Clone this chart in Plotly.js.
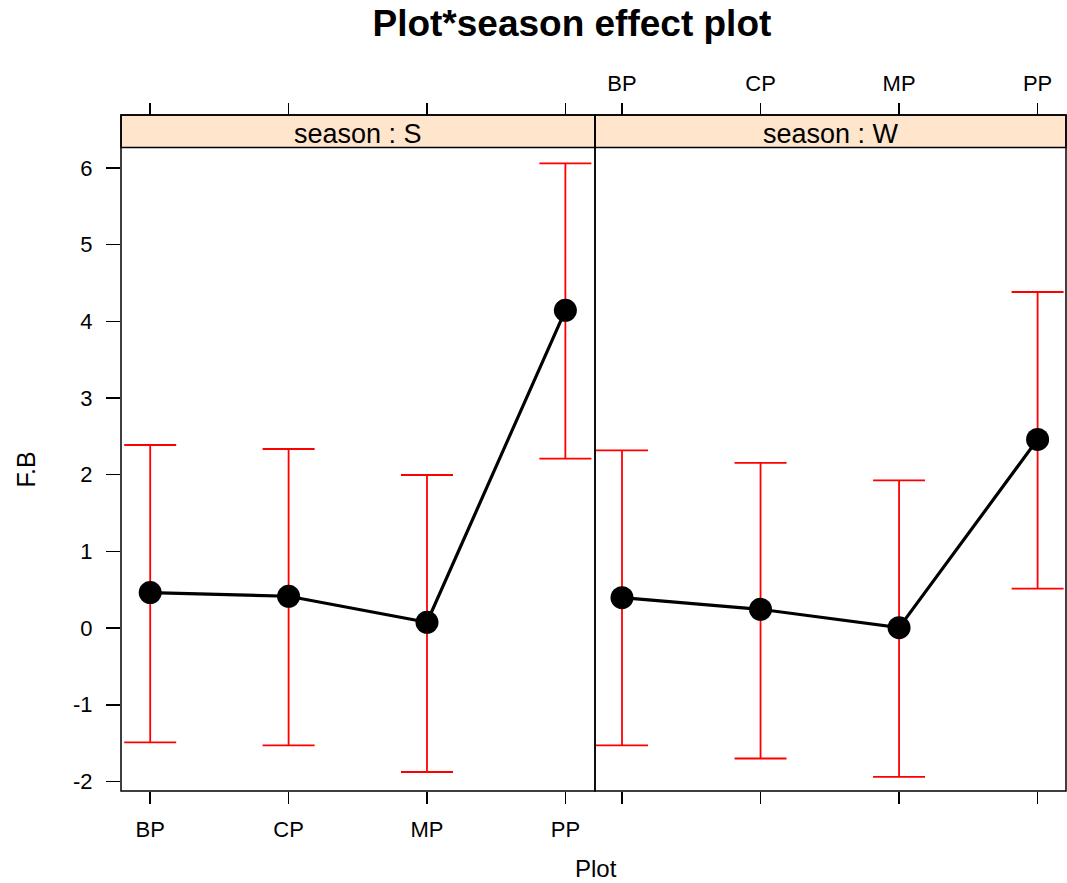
<!DOCTYPE html>
<html>
<head>
<meta charset="utf-8">
<script src="https://cdn.plot.ly/plotly-3.0.1.min.js"></script>
<style>
html, body { margin: 0; padding: 0; background: #ffffff; }
#chart { width: 1067px; height: 883px; }
</style>
</head>
<body>
<div id="chart"></div>
<script>
// ---- data ----
const plots = ['BP', 'CP', 'MP', 'PP'];
const seasons = ['S', 'W'];
const fitS   = [0.463, 0.415, 0.076, 4.143];
const lowerS = [-1.489, -1.528, -1.876, 2.210];
const upperS = [2.387, 2.335, 1.996, 6.060];
const fitW   = [0.397, 0.245, 0.006, 2.460];
const lowerW = [-1.528, -1.700, -1.940, 0.515];
const upperW = [2.318, 2.153, 1.927, 4.382];
const yTicks = [-2, -1, 0, 1, 2, 3, 4, 5, 6];

// ---- styling ----
const FONT = '"Liberation Sans", Arial, Helvetica, sans-serif';
const splitX = (595 - 121) / 945;   // boundary between the two panels (paper)
const panelTop = 0.9518;            // top of the panels (strip starts here)

function trace(fit, lower, upper, xa) {
  return {
    type: 'scatter', mode: 'lines+markers',
    x: plots, y: fit, xaxis: xa, yaxis: 'y',
    line: { color: '#000000', width: 3.2 },
    marker: { color: '#000000', size: 23 },
    error_y: {
      type: 'data', symmetric: false,
      array: upper.map((u, i) => u - fit[i]),
      arrayminus: lower.map((l, i) => fit[i] - l),
      color: '#ff0000', thickness: 1.8, width: 26
    },
    showlegend: false, hoverinfo: 'x+y'
  };
}

// invisible helper traces so that the top (overlaying) axes get drawn
function helper(xa) {
  return {
    type: 'scatter', mode: 'markers', x: plots, y: plots.map(() => null),
    xaxis: xa, yaxis: 'y', showlegend: false, hoverinfo: 'skip',
    marker: { opacity: 0 }
  };
}

const data = [
  trace(fitS, lowerS, upperS, 'x'),
  trace(fitW, lowerW, upperW, 'x2'),
  helper('x3'),
  helper('x4')
];

const xCommon = {
  type: 'category', categoryorder: 'array', categoryarray: plots,
  showgrid: false, zeroline: false, showline: false,
  ticks: 'outside', ticklen: 12, tickwidth: 1.5, tickcolor: '#000000',
  tickfont: { family: FONT, size: 22, color: '#000000' }
};
const rangeL = [-0.211, 3.214];
const rangeR = [-0.195, 3.205];

const layout = {
  width: 1067, height: 883,
  margin: { l: 121, r: 1, t: 115, b: 92, pad: 0 },
  paper_bgcolor: '#ffffff', plot_bgcolor: '#ffffff',
  font: { family: FONT, color: '#000000' },
  showlegend: false,
  title: {
    text: '<b>Plot*season effect plot</b>',
    font: { family: FONT, size: 37, color: '#000000' },
    xref: 'container', x: 0.536, xanchor: 'center',
    yref: 'container', y: 0.974, yanchor: 'middle'
  },
  xaxis: Object.assign({}, xCommon, {
    domain: [0, splitX], range: rangeL, anchor: 'y', side: 'bottom',
    ticklabelstandoff: 7
  }),
  xaxis2: Object.assign({}, xCommon, {
    domain: [splitX, 1], range: rangeR, anchor: 'y', side: 'bottom',
    showticklabels: false
  }),
  xaxis3: Object.assign({}, xCommon, {
    overlaying: 'x', range: rangeL, anchor: 'free', position: 1, side: 'top',
    showticklabels: false
  }),
  xaxis4: Object.assign({}, xCommon, {
    overlaying: 'x2', range: rangeR, anchor: 'free', position: 1, side: 'top',
    ticklabelstandoff: 3
  }),
  yaxis: {
    domain: [0, panelTop], range: [-2.124, 6.265], anchor: 'x',
    tickvals: yTicks, ticktext: yTicks.map(String),
    showgrid: false, zeroline: false, showline: false,
    ticks: 'outside', ticklen: 14, tickwidth: 1.5, tickcolor: '#000000',
    ticklabelstandoff: 9,
    tickfont: { family: FONT, size: 22, color: '#000000' }
  },
  shapes: [
    // strips
    { type: 'rect', xref: 'paper', yref: 'paper', x0: 0, x1: splitX, y0: panelTop, y1: 1,
      fillcolor: '#ffe5cc', line: { color: '#000000', width: 1.5 }, layer: 'below' },
    { type: 'rect', xref: 'paper', yref: 'paper', x0: splitX, x1: 1, y0: panelTop, y1: 1,
      fillcolor: '#ffe5cc', line: { color: '#000000', width: 1.5 }, layer: 'below' },
    // panel borders
    { type: 'rect', xref: 'paper', yref: 'paper', x0: 0, x1: splitX, y0: 0, y1: 1,
      line: { color: '#000000', width: 1.5 } },
    { type: 'rect', xref: 'paper', yref: 'paper', x0: splitX, x1: 1, y0: 0, y1: 1,
      line: { color: '#000000', width: 1.5 } }
  ],
  annotations: [
    { text: 'season : ' + seasons[0], xref: 'paper', yref: 'paper',
      x: splitX / 2, y: (panelTop + 1) / 2, yshift: -3, xanchor: 'center', yanchor: 'middle',
      showarrow: false, font: { family: FONT, size: 27, color: '#000000' } },
    { text: 'season : ' + seasons[1], xref: 'paper', yref: 'paper',
      x: (splitX + 1) / 2, y: (panelTop + 1) / 2, yshift: -3, xanchor: 'center', yanchor: 'middle',
      showarrow: false, font: { family: FONT, size: 27, color: '#000000' } },
    { text: 'Plot', xref: 'paper', yref: 'paper', x: 0.503, y: -0.115,
      xanchor: 'center', yanchor: 'middle', showarrow: false,
      font: { family: FONT, size: 24, color: '#000000' } },
    { text: 'F.B', xref: 'paper', yref: 'paper', x: -0.101, y: 0.475, textangle: -90,
      xanchor: 'center', yanchor: 'middle', showarrow: false,
      font: { family: FONT, size: 25, color: '#000000' } }
  ]
};

Plotly.newPlot('chart', data, layout, { displayModeBar: false, staticPlot: true });
</script>
</body>
</html>
